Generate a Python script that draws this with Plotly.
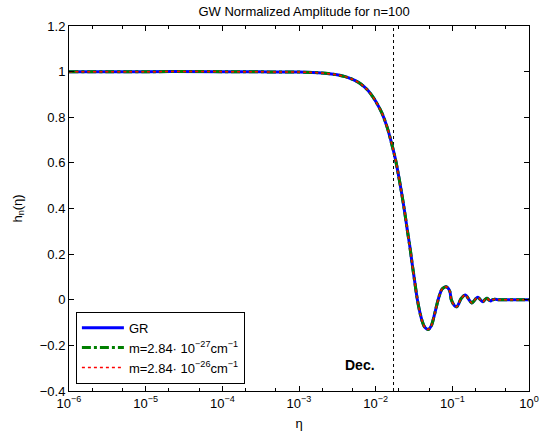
import plotly.graph_objects as go

# Normalized GW amplitude h_n(eta) for n = 100
eta = [1e-6, 1e-5, 1e-4, 3e-4, 1e-3, 2e-3, 3e-3, 4e-3, 5e-3, 6e-3, 7e-3, 8e-3,
       9e-3, 0.010, 0.012, 0.014, 0.016, 0.018, 0.020, 0.022, 0.024, 0.026,
       0.028, 0.030, 0.032, 0.035, 0.038, 0.041, 0.044, 0.0485, 0.053, 0.058,
       0.063, 0.068, 0.074, 0.083, 0.092, 0.097, 0.106, 0.114, 0.122, 0.130,
       0.148, 0.165, 0.180, 0.197, 0.215, 0.232, 0.250, 0.265, 0.282, 0.298,
       0.315, 0.335, 0.36, 0.40, 0.5, 0.7, 1.0]
h_gr = [1.0, 1.0, 1.0, 0.999, 0.998, 0.994, 0.987, 0.978, 0.966, 0.952, 0.935,
        0.916, 0.894, 0.87, 0.82, 0.76, 0.69, 0.62, 0.54, 0.46, 0.38, 0.30,
        0.23, 0.155, 0.09, 0.0, -0.06, -0.10, -0.122, -0.13, -0.115, -0.07,
        -0.02, 0.02, 0.048, 0.057, 0.04, 0.0, -0.025, -0.031, -0.015, 0.005,
        0.021, 0.0, -0.014, 0.0, 0.011, 0.0, -0.009, 0.0, 0.007, 0.0,
        -0.005, 0.0, 0.002, 0.0, 0.0, 0.0, 0.0]
h_m27 = list(h_gr)
h_m26 = list(h_gr)

eta_dec = 0.0171

xtick_vals = [1e-6, 1e-5, 1e-4, 1e-3, 1e-2, 1e-1, 1]
xtick_text = ["10<sup>−6</sup>", "10<sup>−5</sup>", "10<sup>−4</sup>",
              "10<sup>−3</sup>", "10<sup>−2</sup>", "10<sup>−1</sup>",
              "10<sup>0</sup>"]
ytick_vals = [-0.4, -0.2, 0, 0.2, 0.4, 0.6, 0.8, 1, 1.2]
ytick_text = ["−0.4", "−0.2", "0", "0.2", "0.4", "0.6", "0.8", "1", "1.2"]

font_family = "Liberation Sans, Arial, sans-serif"

fig = go.Figure()
fig.add_trace(go.Scatter(x=[eta_dec, eta_dec], y=[-0.4, 1.2], mode="lines",
                         line=dict(color="black", width=1, dash="dot"),
                         showlegend=False, hoverinfo="skip"))
fig.add_trace(go.Scatter(x=eta, y=h_gr, mode="lines", name="GR",
                         line=dict(color="#0000ff", width=3, shape="spline")))
fig.add_trace(go.Scatter(x=eta, y=h_m27, mode="lines",
                         name="m=2.84· 10<sup>−27</sup>cm<sup>−1</sup>",
                         line=dict(color="#007f00", width=3, dash="dashdot",
                                   shape="spline")))
fig.add_trace(go.Scatter(x=eta, y=h_m26, mode="lines",
                         name="m=2.84· 10<sup>−26</sup>cm<sup>−1</sup>",
                         line=dict(color="#ff0000", width=1.5, dash="dot",
                                   shape="spline")))

fig.add_annotation(x=-2.21, y=-0.284, xref="x", yref="y", text="<b>Dec.</b>",
                   showarrow=False, xanchor="center", yanchor="middle",
                   font=dict(size=14, color="black", family=font_family))

fig.update_layout(
    width=551, height=441,
    margin=dict(l=69, r=12, t=26, b=44),
    paper_bgcolor="white", plot_bgcolor="white",
    font=dict(family=font_family, size=13, color="black"),
    title=dict(text="GW Normalized Amplitude for n=100", x=0.552, xanchor="center",
               y=0.973, yanchor="middle", font=dict(size=13)),
    showlegend=True,
    legend=dict(x=0.015, y=0.02, xanchor="left", yanchor="bottom",
                bordercolor="black", borderwidth=1, bgcolor="white",
                font=dict(size=13), tracegroupgap=0, itemwidth=42),
)
fig.update_xaxes(type="log", range=[-6, 0], tickvals=xtick_vals, ticktext=xtick_text,
                 ticks="inside", ticklen=5, tickcolor="black", showline=True,
                 linecolor="black", linewidth=1, mirror="ticks", showgrid=False,
                 zeroline=False,
                 minor=dict(ticks="inside", ticklen=3, tickcolor="black",
                            showgrid=False),
                 title=dict(text="η", standoff=9, font=dict(size=13)))
fig.update_yaxes(range=[-0.4, 1.2], tickvals=ytick_vals, ticktext=ytick_text,
                 ticks="inside", ticklen=5, tickcolor="black", showline=True,
                 linecolor="black", linewidth=1, mirror="ticks", showgrid=False,
                 zeroline=False,
                 title=dict(text="h<sub>n</sub>(η)", standoff=14, font=dict(size=13)))

fig.write_html("out.html")
